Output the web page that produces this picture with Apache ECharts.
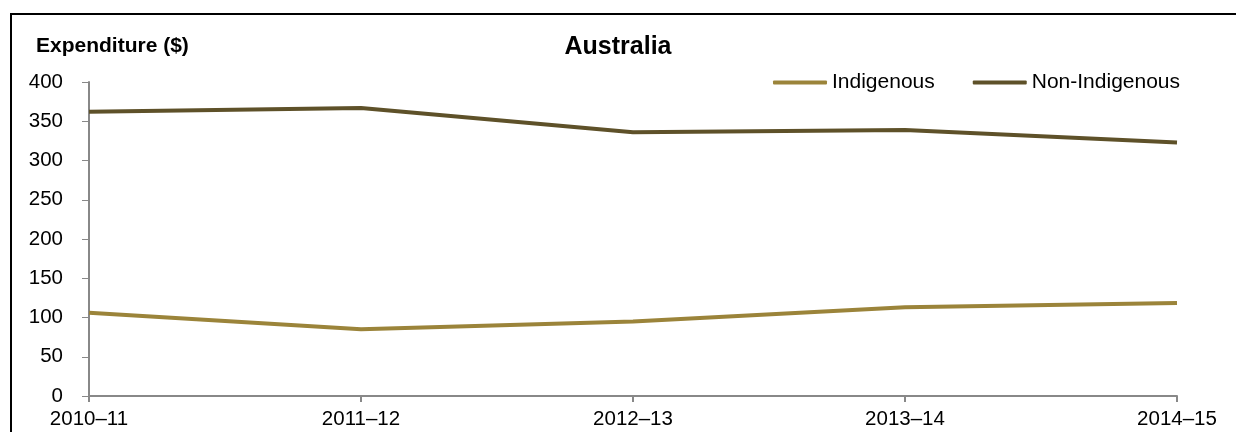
<!DOCTYPE html>
<html>
<head>
<meta charset="utf-8">
<script src="https://cdn.jsdelivr.net/npm/echarts@6/dist/echarts.min.js"></script>
<style>
html,body{margin:0;padding:0;background:#fff;}
#chart{width:1236px;height:432px;}
</style>
</head>
<body>
<div id="chart"></div>
<script>
const categories = ['2010–11', '2011–12', '2012–13', '2013–14', '2014–15'];
const indigenous = [106, 85, 95, 113, 118.5];
const nonIndigenous = [362, 367, 336, 339, 323];
const yTicks = [0, 50, 100, 150, 200, 250, 300, 350, 400];

const chart = echarts.init(document.getElementById('chart'));
const font = 'Liberation Sans, Arial, sans-serif';
chart.setOption({
  animation: false,
  backgroundColor: '#fff',
  graphic: [
    { type: 'polyline', shape: { points: [[11, 440], [11, 14], [1240, 14]] }, style: { stroke: '#000', lineWidth: 2, fill: null } }
  ],
  title: {
    text: 'Australia', left: 'center', top: 30,
    textStyle: { fontFamily: font, fontSize: 25, fontWeight: 'bold', color: '#000' }
  },
  legend: {
    data: ['Indigenous', 'Non-Indigenous'],
    top: 67, left: 768, itemGap: 38, itemWidth: 54, itemHeight: 4,
    icon: 'roundRect',
    textStyle: { fontFamily: font, fontSize: 21, color: '#000' }
  },
  grid: { left: 89, right: 59, top: 82, bottom: 36, containLabel: false },
  xAxis: {
    type: 'category', data: categories, boundaryGap: false,
    axisLine: { lineStyle: { color: '#888', width: 2 } },
    axisTick: { show: true, length: 6, lineStyle: { color: '#888', width: 2 } },
    axisLabel: { fontFamily: font, fontSize: 20.5, color: '#000', margin: 13 }
  },
  yAxis: {
    type: 'value', min: 0, max: 400, interval: 50,
    name: 'Expenditure ($)', nameLocation: 'end', nameGap: 25,
    nameTextStyle: { fontFamily: font, fontSize: 21, fontWeight: 'bold', color: '#000', align: 'left', padding: [0, 0, 0, -53] },
    axisLine: { show: true, lineStyle: { color: '#888', width: 2 } },
    axisTick: { show: true, length: 7, lineStyle: { color: '#888', width: 1 } },
    axisLabel: { fontFamily: font, fontSize: 20.5, color: '#000', margin: 26, formatter: v => yTicks.includes(v) ? String(v) : '' },
    splitLine: { show: false }
  },
  series: [
    { name: 'Indigenous', type: 'line', data: indigenous, symbol: 'none', lineStyle: { color: '#9B843A', width: 4 }, itemStyle: { color: '#9B843A' } },
    { name: 'Non-Indigenous', type: 'line', data: nonIndigenous, symbol: 'none', lineStyle: { color: '#5E5129', width: 4 }, itemStyle: { color: '#5E5129' } }
  ]
});
</script>
</body>
</html>
